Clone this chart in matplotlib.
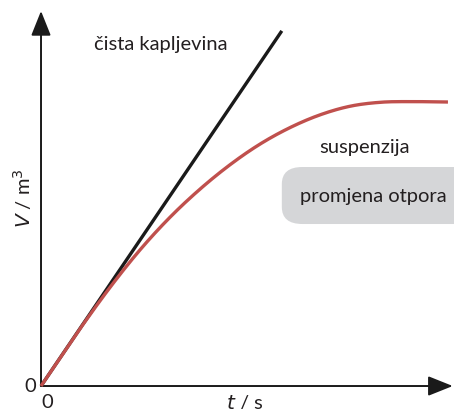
import numpy as np
import matplotlib
matplotlib.use("Agg")
import matplotlib.pyplot as plt
from matplotlib.patches import FancyBboxPatch

# Data (arbitrary units)
t_clean = [0.0, 5.86]
V_clean = [0.0, 9.47]
t_susp = [0.0, 0.462, 0.949, 1.679, 2.409, 3.139, 3.869, 4.599, 5.328, 6.058, 6.788, 7.518, 8.248, 8.978, 9.903]
V_susp = [0.0, 0.744, 1.528, 2.630, 3.630, 4.500, 5.250, 5.900, 6.450, 6.890, 7.230, 7.460, 7.565, 7.584, 7.573]
label_clean = "čista kapljevina"
label_susp = "suspenzija"
label_box = "promjena otpora"

plt.rcParams['font.family'] = ['Lato', 'DejaVu Sans']

def catmull(xs, ys, n=20):
    xs = np.asarray(xs, float); ys = np.asarray(ys, float)
    px = np.concatenate([[2*xs[0]-xs[1]], xs, [2*xs[-1]-xs[-2]]])
    py = np.concatenate([[2*ys[0]-ys[1]], ys, [2*ys[-1]-ys[-2]]])
    ox, oy = [], []
    for i in range(1, len(px)-2):
        u = np.linspace(0, 1, n, endpoint=False)
        for P, out in ((px, ox), (py, oy)):
            p0, p1, p2, p3 = P[i-1], P[i], P[i+1], P[i+2]
            out.extend(0.5*((2*p1) + (-p0+p2)*u + (2*p0-5*p1+4*p2-p3)*u**2 + (-p0+3*p1-3*p2+p3)*u**3))
    ox.append(xs[-1]); oy.append(ys[-1])
    return np.array(ox), np.array(oy)

fig = plt.figure(figsize=(4.54, 4.10), dpi=100)
ax = fig.add_axes([0, 0, 1, 1])
ax.set_xlim(-0.998, 10.05)
ax.set_ylim(-0.613, 10.32)
ax.axis('off')

# axes arrows
for xy in ((10.02, 0), (0, 10.0)):
    ax.annotate('', xy=xy, xytext=(0, 0),
                arrowprops=dict(arrowstyle='-|>,head_length=0.95,head_width=0.38', color='#1a1a1a', lw=1.4,
                                mutation_scale=16, shrinkA=0, shrinkB=0))

sx, sy = catmull(t_susp, V_susp)
ax.plot(t_clean, V_clean, color='#1a1a1a', lw=2.4, solid_capstyle='butt', zorder=3)
ax.plot(sx, sy, color='#c0504d', lw=2.4, solid_capstyle='butt', zorder=4)

box = FancyBboxPatch((5.86, 4.32), 5.0, 1.52, boxstyle='round,pad=0,rounding_size=0.5',
                     facecolor='#d5d6d8', edgecolor='none', zorder=1, mutation_aspect=37.5/41.1)
ax.add_patch(box)

tc = '#231f20'
fs = 14.5
ax.text(2.92, 9.13, label_clean, fontsize=fs, color=tc, ha='center', va='center')
ax.text(7.88, 6.40, label_susp, fontsize=fs, color=tc, ha='center', va='center')
ax.text(8.08, 5.08, label_box, fontsize=fs, color=tc, ha='center', va='center')

ax.text(-0.45, 5.05, r'$\mathit{V}$ / m$^3$', fontsize=fs, color=tc, ha='center', va='center', rotation=90)
ax.text(4.96, -0.40, r'$\mathit{t}$ / s', fontsize=fs, color=tc, ha='center', va='center')
ax.text(-0.27, 0.02, '0', fontsize=fs, color=tc, ha='center', va='center')
ax.text(0.15, -0.42, '0', fontsize=fs, color=tc, ha='center', va='center')

fig.savefig('out.png', dpi=100)
